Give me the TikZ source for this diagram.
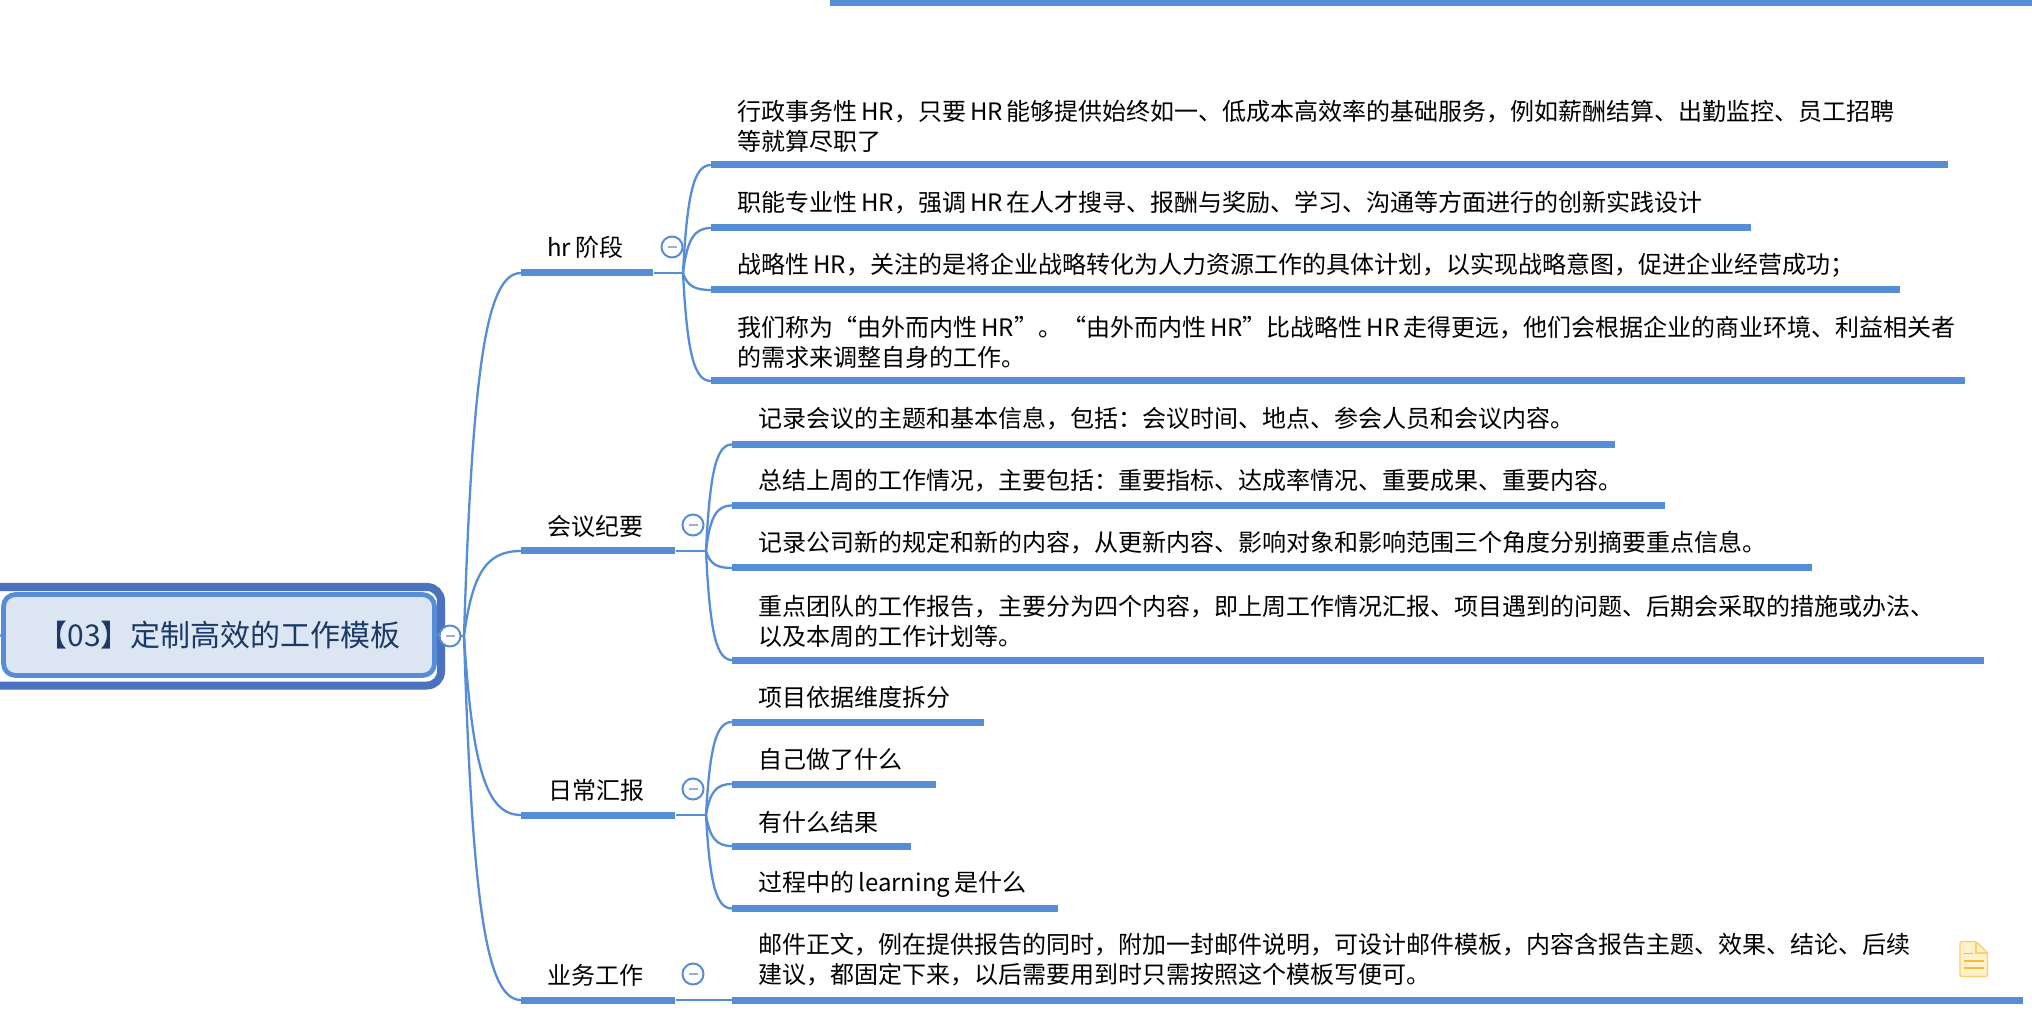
\documentclass[tikz,border=0pt]{standalone}
\usepackage{fontspec}
\setmainfont{Noto Sans CJK SC}
\usetikzlibrary{calc}
\definecolor{barblue}{HTML}{558DD6}
\definecolor{rootouter}{HTML}{4C72BF}
\definecolor{rootfill}{HTML}{DCE5F2}
\definecolor{roottext}{HTML}{1B3A66}
\definecolor{minusc}{HTML}{A3AAD8}
\definecolor{notefill}{HTML}{FFF1CC}
\definecolor{noteline}{HTML}{FAD06F}
\definecolor{notemark}{HTML}{F2BC3C}
\tikzset{
  barbox/.style={fill=barblue,draw=none,inner sep=0pt,minimum height=3.5pt,anchor=west},
  label/.style={anchor=west,inner sep=0pt,align=left,font=\fontsize{12}{15}\selectfont,text=black},
  conn/.style={draw=barblue,line width=1.15pt},
  foldcircle/.style={circle,draw=barblue,line width=1pt,fill=white,minimum size=10.5pt,inner sep=0pt},
  minusbar/.style={draw=minusc,line width=1pt},
}
\newcommand\barnode[4]{\node[barbox,minimum width={(#3-#2)*0.5pt}] (#1) at (#2,#4) {};}
\newcommand\curveconn[2]{\draw[conn] let \p1=(#1), \p2=(#2.west) in (\p1) .. controls ({\x1+0.15*(\x2-\x1)},{\y1+0.75*(\y2-\y1)}) and ({\x2-0.6*(\x2-\x1)},\y2) .. (#2.west);}
\newcommand\foldmark[3]{\node[foldcircle] (#1) at (#2,#3) {}; \draw[minusbar] ($(#1)+(-4.5,0)$) -- ($(#1)+(4.5,0)$);}
\begin{document}
\begin{tikzpicture}[x=0.5pt,y=-0.5pt]
\useasboundingbox (0,0) rectangle (2032,1036);
% top bar
\node[barbox,minimum width=602.5pt,minimum height=3pt] (topbar) at (829.5,3) {};
% root
\coordinate (leftstub) at (0,636);
\coordinate (rootj) at (464,636);
\draw[rootouter,line width=4pt,rounded corners=7pt] (-30,587) rectangle (441,685.5);
\node[draw=barblue,line width=2.4pt,fill=rootfill,rounded corners=6pt,inner sep=0pt,minimum width=215.5pt,minimum height=40.5pt,text=roottext,font=\fontsize{15}{18}\selectfont] (root) at (219,635) {【03】定制高效的工作模板};
\draw[conn] (leftstub) -- (root.west);
\draw[conn] (root.east) -- (rootj);
% topic bars
\barnode{t1}{521}{653}{273}
\barnode{t2}{521}{675}{551}
\barnode{t3}{521}{675}{815}
\barnode{t4}{521}{675}{1000}
\curveconn{rootj}{t1}\curveconn{rootj}{t2}\curveconn{rootj}{t3}\curveconn{rootj}{t4}
\foldmark{frootc}{450}{636}
% topic labels
\node[label] (lt1) at (547,247) {hr\,阶段};
\node[label] (lt2) at (547,526) {会议纪要};
\node[label] (lt3) at (548,790) {日常汇报};
\node[label] (lt4) at (547,975) {业务工作};
% junctions
\coordinate (j1) at (683,273);
\coordinate (j2) at (706,551);
\coordinate (j3) at (706,815);
\draw[conn] (t1.east) -- (j1);
\draw[conn] (t2.east) -- (j2);
\draw[conn] (t3.east) -- (j3);
% hr
\barnode{a1}{711}{1948}{165}
\barnode{a2}{711}{1751}{228}
\barnode{a3}{711}{1900}{290}
\barnode{a4}{711}{1965}{381}
\curveconn{j1}{a1}\curveconn{j1}{a2}\curveconn{j1}{a3}\curveconn{j1}{a4}
\node[label] (ta1) at (737,126) {行政事务性\,HR，只要\,HR\,能够提供始终如一、低成本高效率的基础服务，例如薪酬结算、出勤监控、员工招聘\\等就算尽职了};
\node[label] (ta2) at (737,203) {职能专业性\,HR，强调\,HR\,在人才搜寻、报酬与奖励、学习、沟通等方面进行的创新实践设计};
\node[label] (ta3) at (737,265) {战略性\,HR，关注的是将企业战略转化为人力资源工作的具体计划，以实现战略意图，促进企业经营成功；};
\node[label] (ta4) at (737,342) {我们称为“由外而内性\,HR”。“由外而内性\,HR”比战略性\,HR\,走得更远，他们会根据企业的商业环境、利益相关者\\的需求来调整自身的工作。};
% meeting
\barnode{b1}{732}{1615}{444.5}
\barnode{b2}{732}{1665}{505.5}
\barnode{b3}{732}{1812}{568}
\barnode{b4}{732}{1984}{660}
\curveconn{j2}{b1}\curveconn{j2}{b2}\curveconn{j2}{b3}\curveconn{j2}{b4}
\node[label] (tb1) at (758,419) {记录会议的主题和基本信息，包括：会议时间、地点、参会人员和会议内容。};
\node[label] (tb2) at (758,481) {总结上周的工作情况，主要包括：重要指标、达成率情况、重要成果、重要内容。};
\node[label] (tb3) at (758,543) {记录公司新的规定和新的内容，从更新内容、影响对象和影响范围三个角度分别摘要重点信息。};
\node[label] (tb4) at (758,621) {重点团队的工作报告，主要分为四个内容，即上周工作情况汇报、项目遇到的问题、后期会采取的措施或办法、\\以及本周的工作计划等。};
% daily
\barnode{c1}{732}{984}{722}
\barnode{c2}{732}{936}{784}
\barnode{c3}{732}{911}{846}
\barnode{c4}{732}{1058}{908.5}
\curveconn{j3}{c1}\curveconn{j3}{c2}\curveconn{j3}{c3}\curveconn{j3}{c4}
\node[label] (tc1) at (758,697) {项目依据维度拆分};
\node[label] (tc2) at (758,759) {自己做了什么};
\node[label] (tc3) at (758,822) {有什么结果};
\node[label] (tc4) at (758,884) {过程中的\,learning\,是什么};
% business
\barnode{d1}{732}{2023}{1000}
\draw[conn] (t4.east) -- (d1.west);
\node[label] (td1) at (758,960) {邮件正文，例在提供报告的同时，附加一封邮件说明，可设计邮件模板，内容含报告主题、效果、结论、后续\\建议，都固定下来，以后需要用到时只需按照这个模板写便可。};
% fold marks
\foldmark{f1}{672}{247}
\foldmark{f2}{693}{525}
\foldmark{f3}{693}{789}
\foldmark{f4}{693}{974}
% note icon
\draw[noteline,fill=notefill,line width=0.7pt,line join=round,rounded corners=1pt] (1960,941.5) -- (1976,941.5) -- (1987.5,953) -- (1987.5,976.5) -- (1960,976.5) -- cycle;
\draw[noteline,line width=0.7pt] (1976,941.5) -- (1976,953) -- (1987.5,953);
\draw[notemark,line width=0.8pt] (1964,953.5) -- (1973,953.5) (1964,961) -- (1984,961) (1964,968) -- (1984,968);
\end{tikzpicture}
\end{document}
